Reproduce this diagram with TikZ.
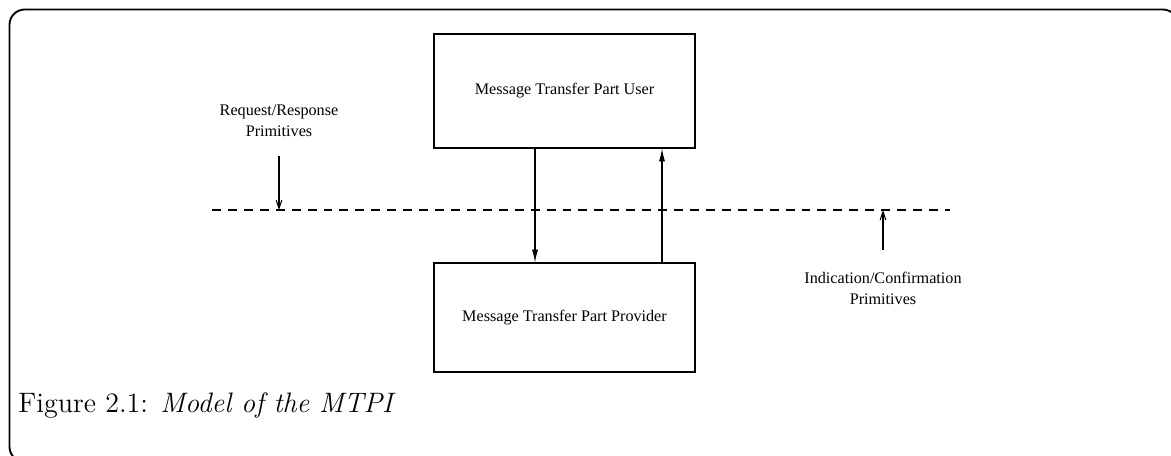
\documentclass[tikz,border=0pt]{standalone}
\usepackage{fontspec}
\newfontfamily\timesfont{Liberation Serif}
\usetikzlibrary{arrows.meta}
\begin{document}
\begin{tikzpicture}[x=0.015cm, y=-0.015cm,
    layer/.style={draw, line width=0.45pt, minimum width=261*0.015cm, inner sep=0pt, font=\timesfont\fontsize{6.9}{9}\selectfont},
    prim/.style={align=center, font=\timesfont\fontsize{6.9}{9}\selectfont},
    flow/.style={line width=0.45pt, -{Latex[length=5.5pt,width=2.6pt]}},
    hint/.style={line width=0.45pt, -{Straight Barb[length=3.5pt,width=2.4pt]}}]
    \useasboundingbox (0,0) rectangle (1171,455);
    \clip (0,0) rectangle (1171,455);
    \draw[line width=0.8pt, rounded corners=6.5pt] (9.5,462) -- (9.5,9.5) -- (1178,9.5) -- (1178,462) -- cycle;

    % Nodes
    \node[layer, minimum height=114*0.015cm] (user) at (564.5, 91) {Message Transfer Part User};
    \node[layer, minimum height=109*0.015cm] (provider) at (564.5, 317.5) {Message Transfer Part Provider};
    \coordinate (left) at (212, 210);
    \coordinate (right) at (950, 210);
    \node[prim] (req) at (279, 121) {Request/Response\\Primitives};
    \node[prim] (ind) at (883, 288) {Indication/Confirmation\\Primitives};

    % Interface
    \draw[line width=0.45pt, dash pattern=on 3.8pt off 3pt] (left) -- (right);

    % Primitives
    \draw[flow] ([xshift=-29.5*0.015cm]user.south) -- ([xshift=-29.5*0.015cm]provider.north);
    \draw[flow] ([xshift=97.5*0.015cm]provider.north) -- ([xshift=97.5*0.015cm]user.south);
    \draw[hint] (279, 156) -- (req.south |- left);
    \draw[hint] (883, 250) -- (ind.north |- right);

    % Caption
    \node[anchor=west, inner sep=0pt, font=\large] (caption) at (18, 405) {Figure 2.1: \textit{Model of the MTPI}};
\end{tikzpicture}
\end{document}
